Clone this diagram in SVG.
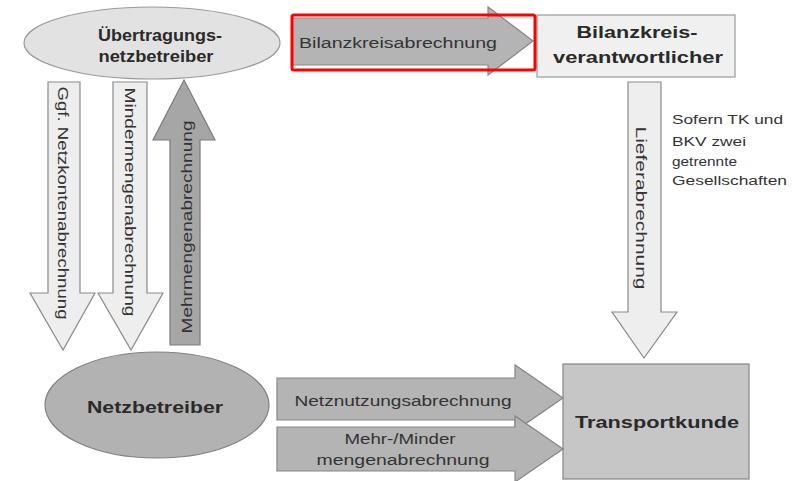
<svg xmlns="http://www.w3.org/2000/svg" width="805" height="481" viewBox="0 0 805 481">
<style>
text{font-family:"Liberation Sans",Arial,sans-serif;fill:#333}
.h{font-weight:bold;font-size:16px;fill:#2a2a2a}
.l{font-size:14px}
.s{font-size:12px}
.light{fill:#eeeeee;stroke:#8a8a8a;stroke-width:1.2}
.mid{fill:#b4b4b4;stroke:#858585;stroke-width:1.2}
.dark{fill:#a6a6a6;stroke:#7a7a7a;stroke-width:1.2}
</style>
<rect width="805" height="481" fill="#ffffff"/>
<g id="uenb">
<ellipse cx="152" cy="43" rx="128" ry="36" fill="#e2e2e2" stroke="#9a9a9a" stroke-width="1.2"/>
<text class="h" x="160" y="41" text-anchor="middle" textLength="124" lengthAdjust="spacingAndGlyphs">Übertragungs-</text>
<text class="h" x="156" y="62" text-anchor="middle" textLength="115" lengthAdjust="spacingAndGlyphs">netzbetreiber</text>
</g>
<g id="bkv">
<rect x="537" y="15" width="198" height="62" fill="#f0f0f0" stroke="#9a9a9a" stroke-width="1.2"/>
<text class="h" x="637" y="38" text-anchor="middle" textLength="121" lengthAdjust="spacingAndGlyphs">Bilanzkreis-</text>
<text class="h" x="638" y="63" text-anchor="middle" textLength="170" lengthAdjust="spacingAndGlyphs">verantwortlicher</text>
</g>
<g id="netzbetreiber">
<ellipse cx="157" cy="405" rx="112" ry="53" fill="#b2b2b2" stroke="#808080" stroke-width="1.2"/>
<text class="h" x="155" y="413" text-anchor="middle" textLength="136" lengthAdjust="spacingAndGlyphs">Netzbetreiber</text>
</g>
<g id="transportkunde">
<rect x="563" y="364" width="186" height="115" fill="#c6c6c6" stroke="#858585" stroke-width="1.2"/>
<text class="h" x="657" y="428" text-anchor="middle" textLength="164" lengthAdjust="spacingAndGlyphs">Transportkunde</text>
</g>
<g id="connectors">
<path class="mid" d="M292,18 H488 V7 L533,41 L488,75 V65 H292 Z"/>
<text class="l" x="299" y="48" textLength="198" lengthAdjust="spacingAndGlyphs">Bilanzkreisabrechnung</text>
<path class="light" d="M628,82 H661 V312 H677 L644,358 L612,312 H628 Z"/>
<text class="l" transform="translate(641,208) rotate(90)" x="0" y="5" text-anchor="middle" textLength="163" lengthAdjust="spacingAndGlyphs">Lieferabrechnung</text>
<path class="light" d="M48,82 H80 V293 H95 L63,350 L30,293 H48 Z"/>
<text class="l" transform="translate(63,203) rotate(90)" x="0" y="5" text-anchor="middle" textLength="233" lengthAdjust="spacingAndGlyphs">Ggf. Netzkontenabrechnung</text>
<path class="light" d="M113,82 H147 V293 H163 L131,350 L98,293 H113 Z"/>
<text class="l" transform="translate(130,202) rotate(90)" x="0" y="5" text-anchor="middle" textLength="229" lengthAdjust="spacingAndGlyphs">Mindermengenabrechnung</text>
<path class="dark" d="M170,345 V140 H153 L184,80 L215,140 H200 V345 Z"/>
<text class="l" transform="translate(187,227) rotate(-90)" x="0" y="5" text-anchor="middle" textLength="213" lengthAdjust="spacingAndGlyphs">Mehrmengenabrechnung</text>
<path class="mid" d="M277,378 H515 V365 L563,398 L515,431 V420 H277 Z"/>
<text class="l" x="403" y="406" text-anchor="middle" textLength="217" lengthAdjust="spacingAndGlyphs">Netznutzungsabrechnung</text>
<path class="mid" d="M277,427 H515 V416 L563,449 L515,482 V471 H277 Z"/>
<text class="l" x="400" y="444" text-anchor="middle" textLength="111" lengthAdjust="spacingAndGlyphs">Mehr-/Minder</text>
<text class="l" x="403" y="465" text-anchor="middle" textLength="173" lengthAdjust="spacingAndGlyphs">mengenabrechnung</text>
</g>
<g id="note">
<text class="s" x="672" y="124" textLength="111" lengthAdjust="spacingAndGlyphs">Sofern TK und</text>
<text class="s" x="672" y="146" textLength="74" lengthAdjust="spacingAndGlyphs">BKV zwei</text>
<text class="s" x="672" y="166" textLength="65" lengthAdjust="spacingAndGlyphs">getrennte</text>
<text class="s" x="672" y="185" textLength="115" lengthAdjust="spacingAndGlyphs">Gesellschaften</text>
</g>
<rect id="highlight" x="292" y="15" width="243" height="55" rx="2" fill="none" stroke="#ff0000" stroke-width="3"/>
</svg>
